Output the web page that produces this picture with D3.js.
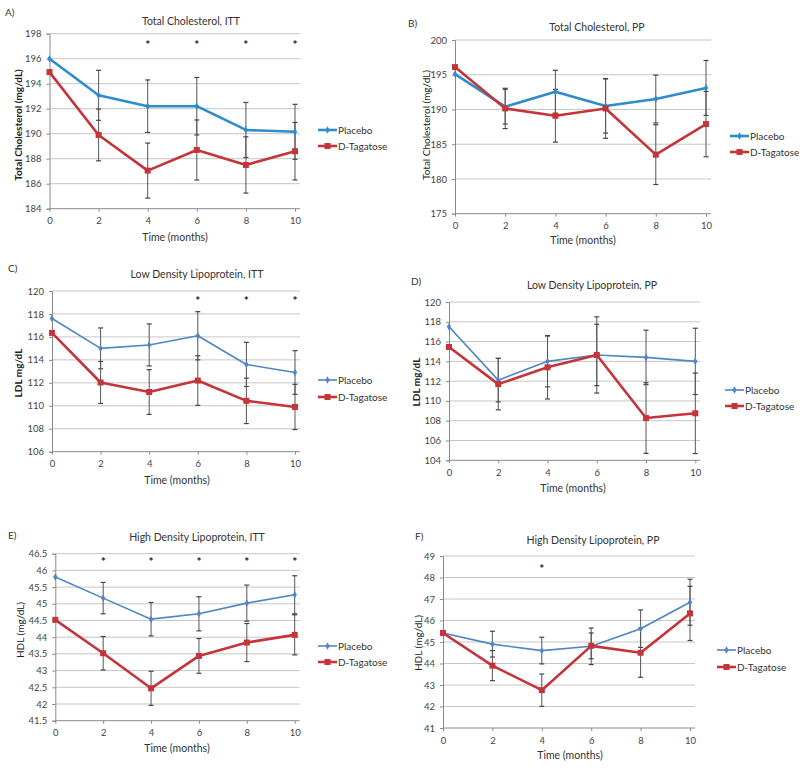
<!DOCTYPE html>
<html><head><meta charset="utf-8">
<script src="https://cdn.jsdelivr.net/npm/d3@7"></script>
<style>
body{margin:0;background:#fff;}
svg{display:block;font-family:Lato,"Open Sans",sans-serif;}
</style></head>
<body>
<script>
// ---------- DATA ----------
const months = [0, 2, 4, 6, 8, 10];
const seriesNames = ["Placebo", "D-Tagatose"];

// A) Total Cholesterol, ITT
const tcIttPlacebo    = [196.0, 193.07, 192.2, 192.2, 190.3, 190.15];
const tcIttPlaceboErr = [0, 2.0, 2.1, 2.3, 2.2, 2.2];
const tcIttTag        = [194.93, 189.9, 187.05, 188.7, 187.5, 188.6];
const tcIttTagErr     = [0, 2.07, 2.2, 2.4, 2.25, 2.3];
const tcIttSig        = [4, 6, 8, 10];

// B) Total Cholesterol, PP
const tcPpPlacebo    = [195.1, 190.4, 192.55, 190.5, 191.5, 193.1];
const tcPpPlaceboErr = [0, 2.5, 3.1, 3.9, 3.45, 3.95];
const tcPpTag        = [196.1, 190.15, 189.1, 190.15, 183.5, 187.9];
const tcPpTagErr     = [0, 2.9, 3.8, 4.3, 4.3, 4.7];
const tcPpSig        = [];

// C) LDL, ITT
const ldlIttPlacebo    = [117.6, 115.0, 115.3, 116.1, 113.6, 112.9];
const ldlIttPlaceboErr = [0, 1.78, 1.83, 2.1, 1.92, 1.9];
const ldlIttTag        = [116.35, 112.03, 111.2, 112.2, 110.43, 109.9];
const ldlIttTagErr     = [0, 1.83, 1.95, 2.16, 1.98, 1.97];
const ldlIttSig        = [6, 8, 10];

// D) LDL, PP
const ldlPpPlacebo    = [117.5, 112.1, 114.0, 114.65, 114.4, 114.0];
const ldlPpPlaceboErr = [0, 2.2, 2.57, 3.85, 2.75, 3.35];
const ldlPpTag        = [115.45, 111.7, 113.4, 114.65, 108.27, 108.75];
const ldlPpTagErr     = [0, 2.6, 3.2, 3.1, 3.57, 4.07];
const ldlPpSig        = [];

// E) HDL, ITT
const hdlIttPlacebo    = [45.8, 45.17, 44.54, 44.7, 45.02, 45.27];
const hdlIttPlaceboErr = [0, 0.47, 0.5, 0.51, 0.54, 0.57];
const hdlIttTag        = [44.52, 43.52, 42.47, 43.44, 43.84, 44.07];
const hdlIttTagErr     = [0, 0.5, 0.51, 0.52, 0.57, 0.6];
const hdlIttSig        = [2, 4, 6, 8, 10];

// F) HDL, PP
const hdlPpPlacebo    = [45.42, 44.9, 44.6, 44.8, 45.62, 46.85];
const hdlPpPlaceboErr = [0, 0.6, 0.62, 0.85, 0.87, 1.07];
const hdlPpTag        = [45.42, 43.9, 42.76, 44.82, 44.5, 46.33];
const hdlPpTagErr     = [0, 0.7, 0.75, 0.6, 1.14, 1.26];
const hdlPpSig        = [4];

// ---------- LAYOUT ----------
const W = 800, H = 783;
const svg = d3.select("body").append("svg").attr("width", W).attr("height", H);

const panels = [
  {letter:"A)", title:"Total Cholesterol, ITT", ylabel:"Total Cholesterol (mg/dL)", ybold:true,
   p:tcIttPlacebo, pe:tcIttPlaceboErr, t:tcIttTag, te:tcIttTagErr, sig:tcIttSig, sigY:197.1,
   dom:[184,198], step:2, fmt:d3.format("d"),
   x0:49.5, x1:295, yt:33.7, yb:208.7, thick:true,
   letterPos:[5,16], titlePos:[191,25], ylabPos:[18,125], xlabPos:[175,241], xtickY:224,
   legX:318, legY:[130,146]},
  {letter:"B)", title:"Total Cholesterol, PP", ylabel:"Total Cholesterol (mg/dL)", ybold:false,
   p:tcPpPlacebo, pe:tcPpPlaceboErr, t:tcPpTag, te:tcPpTagErr, sig:tcPpSig, sigY:0,
   dom:[175,200], step:5, fmt:d3.format("d"),
   x0:455, x1:706, yt:40, yb:213.7, thick:true,
   letterPos:[408,27], titlePos:[597,31], ylabPos:[426,125], xlabPos:[583,244], xtickY:229,
   legX:730, legY:[136,152]},
  {letter:"C)", title:"Low Density Lipoprotein, ITT", ylabel:"LDL mg/dL", ybold:true,
   p:ldlIttPlacebo, pe:ldlIttPlaceboErr, t:ldlIttTag, te:ldlIttTagErr, sig:ldlIttSig, sigY:119.2,
   dom:[106,120], step:2, fmt:d3.format("d"),
   x0:52, x1:295, yt:291, yb:451.7, thick:false,
   letterPos:[8,272], titlePos:[197,278], ylabPos:[18,373], xlabPos:[177,484], xtickY:468,
   legX:318, legY:[380,397]},
  {letter:"D)", title:"Low Density Lipoprotein, PP", ylabel:"LDL mg/dL", ybold:true,
   p:ldlPpPlacebo, pe:ldlPpPlaceboErr, t:ldlPpTag, te:ldlPpTagErr, sig:ldlPpSig, sigY:0,
   dom:[104,120], step:2, fmt:d3.format("d"),
   x0:449, x1:695.3, yt:302, yb:460.3, thick:false,
   letterPos:[411,285], titlePos:[592,289], ylabPos:[416,382], xlabPos:[573,492], xtickY:476,
   legX:725, legY:[390,406]},
  {letter:"E)", title:"High Density Lipoprotein, ITT", ylabel:"HDL (mg/dL)", ybold:false,
   p:hdlIttPlacebo, pe:hdlIttPlaceboErr, t:hdlIttTag, te:hdlIttTagErr, sig:hdlIttSig, sigY:46.27,
   dom:[41.5,46.5], step:0.5, fmt:d3.format(""),
   x0:55.3, x1:294.7, yt:553.7, yb:720.7, thick:false,
   letterPos:[8,539], titlePos:[197,541], ylabPos:[20,630], xlabPos:[177,752], xtickY:737,
   legX:318, legY:[646,662]},
  {letter:"F)", title:"High Density Lipoprotein, PP", ylabel:"HDL (mg/dL)", ybold:false,
   p:hdlPpPlacebo, pe:hdlPpPlaceboErr, t:hdlPpTag, te:hdlPpTagErr, sig:hdlPpSig, sigY:48.43,
   dom:[41,49], step:1, fmt:d3.format("d"),
   x0:443, x1:690, yt:556, yb:728, thick:false,
   letterPos:[415,540], titlePos:[593,544], ylabPos:[418,643], xlabPos:[570,759], xtickY:744,
   legX:717, legY:[650,667]}
];

function drawPanel(c) {
  const g = svg.append("g");
  const blueCol = c.thick ? "#2e8ccb" : "#4f86c3";
  const redCol = "#c4343a";
  const x = d3.scaleLinear().domain([0, 10]).range([c.x0, c.x1]);
  const y = d3.scaleLinear().domain(c.dom).range([c.yb, c.yt]);
  const ext = 5;
  const ticks = d3.range(c.dom[0], c.dom[1] + c.step / 2, c.step);

  // gridlines
  g.selectAll("line.grid").data(ticks.slice(1)).join("line")
    .attr("x1", c.x0).attr("x2", c.x1 + ext)
    .attr("y1", d => y(d)).attr("y2", d => y(d))
    .attr("stroke", "#c6c6c6").attr("stroke-width", 1);

  // y axis
  const ya = g.append("g").attr("transform", `translate(${c.x0},0)`)
    .call(d3.axisLeft(y).tickValues(ticks).tickSize(3).tickPadding(5).tickFormat(c.fmt));
  ya.select(".domain").attr("stroke", "#8a8a8a");
  ya.selectAll(".tick line").attr("stroke", "#8a8a8a");
  ya.selectAll(".tick text").attr("fill", "#444").style("font-size", "9.5px").style("font-family", "Lato, sans-serif");

  // x axis
  const xa = g.append("g").attr("transform", `translate(0,${c.yb})`)
    .call(d3.axisBottom(x).tickValues(months).tickSize(3).tickPadding(6));
  xa.select(".domain").remove();
  xa.selectAll(".tick line").attr("stroke", "#8a8a8a");
  xa.selectAll(".tick text").attr("fill", "#444").style("font-size", "9.5px").style("font-family", "Lato, sans-serif");
  g.append("line").attr("x1", c.x0).attr("x2", c.x1 + ext).attr("y1", c.yb).attr("y2", c.yb)
    .attr("stroke", "#8a8a8a");

  // error bars
  const series = [
    {v:c.p, e:c.pe, col:blueCol, w:c.thick ? 2.6 : 1.6, marker:"diamond"},
    {v:c.t, e:c.te, col:redCol, w:2.6, marker:"square"}
  ];
  series.forEach(s => {
    const eb = g.append("g");
    months.forEach((m, i) => {
      if (!s.e[i]) return;
      const xi = x(m), top = y(s.v[i] + s.e[i]), bot = y(s.v[i] - s.e[i]);
      eb.append("line").attr("x1", xi).attr("x2", xi).attr("y1", top).attr("y2", bot)
        .attr("stroke", "#555").attr("stroke-width", 1);
      [top, bot].forEach(yy => eb.append("line").attr("x1", xi - 2.5).attr("x2", xi + 2.5)
        .attr("y1", yy).attr("y2", yy).attr("stroke", "#444").attr("stroke-width", 1.2));
    });
  });

  // lines and markers
  const line = d3.line().x((d, i) => x(months[i])).y(d => y(d));
  series.forEach(s => {
    g.append("path").attr("d", line(s.v)).attr("fill", "none")
      .attr("stroke", s.col).attr("stroke-width", s.w).attr("stroke-linejoin", "round");
    if (s.marker === "square") {
      g.selectAll(null).data(s.v).join("rect")
        .attr("x", (d, i) => x(months[i]) - 3).attr("y", d => y(d) - 3)
        .attr("width", 6).attr("height", 6).attr("fill", s.col);
    } else {
      g.selectAll(null).data(s.v).join("path")
        .attr("d", d3.symbol(d3.symbolDiamond, 16))
        .attr("transform", (d, i) => `translate(${x(months[i])},${y(d)})`)
        .attr("fill", s.col);
    }
  });

  // significance asterisks
  g.selectAll("text.sig").data(c.sig).join("text")
    .attr("x", d => x(d)).attr("y", y(c.sigY) + 4.5)
    .attr("text-anchor", "middle").style("font-size", "12px").style("font-weight", "bold")
    .attr("fill", "#222").text("*");

  // titles & labels
  g.append("text").attr("x", c.letterPos[0]).attr("y", c.letterPos[1])
    .style("font-size", "10px").attr("fill", "#333").text(c.letter);
  g.append("text").attr("x", c.titlePos[0]).attr("y", c.titlePos[1]).attr("text-anchor", "middle")
    .style("font-size", "10.5px").attr("fill", "#333").text(c.title);
  g.append("text").attr("transform", `translate(${c.ylabPos[0]},${c.ylabPos[1]}) rotate(-90)`)
    .attr("text-anchor", "middle").attr("dy", "0.35em")
    .style("font-size", "10px").style("font-weight", c.ybold ? "bold" : "normal")
    .attr("fill", "#222").text(c.ylabel);
  g.append("text").attr("x", c.xlabPos[0]).attr("y", c.xlabPos[1]).attr("text-anchor", "middle")
    .style("font-size", "10.5px").attr("fill", "#333").text("Time (months)");

  // legend
  series.forEach((s, i) => {
    const ly = c.legY[i];
    g.append("line").attr("x1", c.legX).attr("x2", c.legX + 19).attr("y1", ly).attr("y2", ly)
      .attr("stroke", s.col).attr("stroke-width", s.w);
    if (s.marker === "square") {
      g.append("rect").attr("x", c.legX + 6.5).attr("y", ly - 3).attr("width", 6).attr("height", 6).attr("fill", s.col);
    } else {
      g.append("path").attr("d", d3.symbol(d3.symbolDiamond, 16))
        .attr("transform", `translate(${c.legX + 9.5},${ly})`).attr("fill", s.col);
    }
    g.append("text").attr("x", c.legX + 20).attr("y", ly).attr("dy", "0.35em")
      .style("font-size", "10px").attr("fill", "#333").text(seriesNames[i]);
  });
}

panels.forEach(drawPanel);
</script>
</body></html>
